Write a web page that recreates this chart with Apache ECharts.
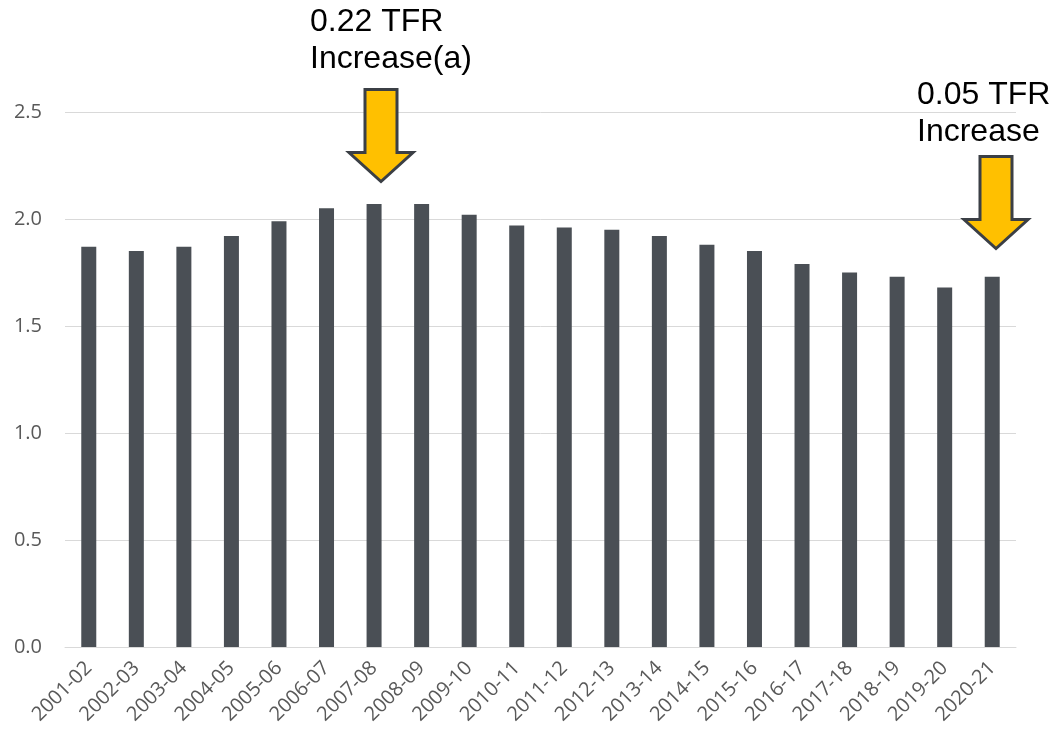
<!DOCTYPE html>
<html>
<head>
<meta charset="utf-8">
<script src="https://cdn.jsdelivr.net/npm/echarts@6/dist/echarts.min.js"></script>
<style>
html,body{margin:0;padding:0;background:#fff;}
#chart{width:1055px;height:736px;}
</style>
</head>
<body>
<div id="chart"></div>
<script>
const categories = ['2001-02','2002-03','2003-04','2004-05','2005-06','2006-07','2007-08','2008-09','2009-10','2010-11','2011-12','2012-13','2013-14','2014-15','2015-16','2016-17','2017-18','2018-19','2019-20','2020-21'];
const tfrValues = [1.87,1.85,1.87,1.92,1.99,2.05,2.07,2.07,2.02,1.97,1.96,1.95,1.92,1.88,1.85,1.79,1.75,1.73,1.68,1.73];
const yTicks = [0, 0.5, 1.0, 1.5, 2.0, 2.5];
const annotation1 = '0.22 TFR\nIncrease(a)';
const annotation2 = '0.05 TFR\nIncrease';

const chart = echarts.init(document.getElementById('chart'), null, {renderer:'canvas'});

function arrowPoints(cx, top) {
  const sw = 16, hw = 32, shaftLen = 63, headH = 29;
  return [
    [cx - sw, top], [cx + sw, top], [cx + sw, top + shaftLen],
    [cx + hw, top + shaftLen], [cx, top + shaftLen + headH],
    [cx - hw, top + shaftLen], [cx - sw, top + shaftLen]
  ];
}
const arrowStyle = {fill:'#FFC000', stroke:'#3B3F45', lineWidth:3, lineJoin:'miter'};
const annFont = {fontFamily:'Liberation Sans, Arial, sans-serif', fontSize:32, lineHeight:37, fill:'#000'};

chart.setOption({
  animation:false,
  backgroundColor:'#fff',
  grid:{left:65, right:39, top:112, bottom:89, containLabel:false},
  xAxis:{
    type:'category',
    data:categories,
    axisLine:{show:true, lineStyle:{color:'#D9D9D9', width:1}},
    axisTick:{show:false},
    axisLabel:{interval:0, rotate:45, margin:18, color:'#595959', fontSize:20, fontFamily:'Open Sans, sans-serif'}
  },
  yAxis:{
    type:'value',
    min:yTicks[0], max:yTicks[yTicks.length-1], interval:0.5,
    axisLine:{show:false}, axisTick:{show:false},
    splitLine:{lineStyle:{color:'#D9D9D9', width:1}},
    axisLabel:{margin:23, color:'#595959', fontSize:20, fontFamily:'Open Sans, sans-serif', formatter:v=>v.toFixed(1)}
  },
  series:[{
    type:'bar',
    data:tfrValues,
    barWidth:15,
    itemStyle:{color:'#4A4F55'}
  }],
  graphic:[
    {type:'polygon', shape:{points:arrowPoints(381, 89.5)}, style:arrowStyle, z:100},
    {type:'polygon', shape:{points:arrowPoints(996, 156.5)}, style:arrowStyle, z:100},
    {type:'text', left:310, top:4, style:Object.assign({text:annotation1}, annFont), z:100},
    {type:'text', left:917, top:77, style:Object.assign({text:annotation2}, annFont), z:100}
  ]
});
</script>
</body>
</html>
